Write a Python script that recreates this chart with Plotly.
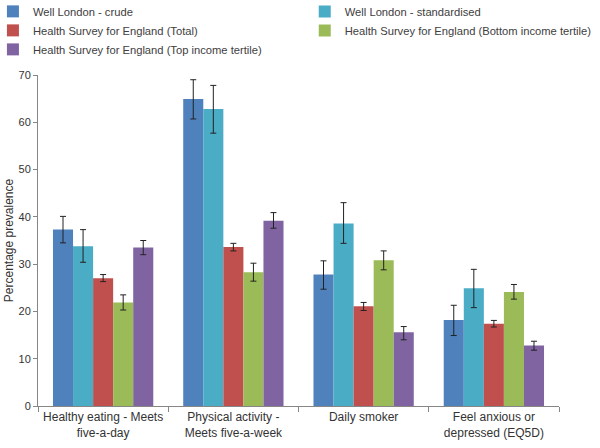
import plotly.graph_objects as go

# Categorias (rótulos do eixo x)
categories = ["Healthy eating - Meets<br>five-a-day",
              "Physical activity -<br>Meets five-a-week",
              "Daily smoker",
              "Feel anxious or<br>depressed (EQ5D)"]

series_names = ["Well London - crude",
                "Well London - standardised",
                "Health Survey for England (Total)",
                "Health Survey for England (Bottom income tertile)",
                "Health Survey for England (Top income tertile)"]

wl_crude = [37.3, 64.9, 27.8, 18.2]
wl_crude_hi = [40.1, 69.0, 30.7, 21.3]
wl_crude_lo = [34.5, 60.7, 24.7, 14.9]

wl_std = [33.8, 62.8, 38.6, 24.9]
wl_std_hi = [37.3, 67.8, 43.0, 28.9]
wl_std_lo = [30.4, 57.7, 34.4, 20.8]

hse_total = [27.0, 33.6, 21.1, 17.4]
hse_total_hi = [27.8, 34.4, 21.9, 18.1]
hse_total_lo = [26.3, 32.8, 20.2, 16.7]

hse_bottom = [21.9, 28.3, 30.8, 24.1]
hse_bottom_hi = [23.5, 30.2, 32.8, 25.7]
hse_bottom_lo = [20.3, 26.4, 28.8, 22.6]

hse_top = [33.5, 39.2, 15.6, 12.8]
hse_top_hi = [35.0, 40.9, 16.8, 13.7]
hse_top_lo = [32.0, 37.6, 14.0, 11.8]

colors = ["#4F81BD", "#4BACC6", "#C0504D", "#9BBB59", "#8064A2"]

values = [wl_crude, wl_std, hse_total, hse_bottom, hse_top]
highs = [wl_crude_hi, wl_std_hi, hse_total_hi, hse_bottom_hi, hse_top_hi]
lows = [wl_crude_lo, wl_std_lo, hse_total_lo, hse_bottom_lo, hse_top_lo]
# coluna da legenda em que cada série aparece
legend_cols = ["legend", "legend2", "legend", "legend2", "legend"]

fig = go.Figure()
for name, v, hi, lo, c, lg in zip(series_names, values, highs, lows, colors, legend_cols):
    fig.add_trace(go.Bar(
        x=categories, y=v, name=name, legend=lg,
        marker=dict(color=c, line=dict(width=0)),
        error_y=dict(type="data", symmetric=False,
                     array=[h - y for h, y in zip(hi, v)],
                     arrayminus=[y - l for y, l in zip(v, lo)],
                     color="#222222", thickness=1, width=3),
    ))

leg_common = dict(orientation="v", xanchor="left", yanchor="top",
                  font=dict(size=11.2, color="#404040"), traceorder="normal",
                  itemwidth=30, tracegroupgap=0, bgcolor="rgba(0,0,0,0)")

fig.update_layout(
    width=600, height=448,
    barmode="group", bargap=0.23, bargroupgap=0,
    plot_bgcolor="white", paper_bgcolor="white",
    font=dict(family="Liberation Sans", size=12, color="#333333"),
    margin=dict(l=38, r=41, t=75, b=42, autoexpand=False),
    legend=dict(x=-0.0865, y=1.236, **leg_common),
    legend2=dict(x=0.512, y=1.236, **leg_common),
    xaxis=dict(showline=True, linecolor="#868686", linewidth=1,
               ticks="outside", tickson="boundaries", ticklen=5, tickcolor="#868686",
               tickangle=0, tickfont=dict(size=12)),
    yaxis=dict(range=[0, 70], dtick=10, showgrid=False, zeroline=False,
               showline=True, linecolor="#868686", linewidth=1,
               ticks="outside", ticklen=4, tickcolor="#868686",
               tickfont=dict(size=11),
               title=dict(text="Percentage prevalence", font=dict(size=12), standoff=2)),
)

# tira a margem padrão da página para a figura ocupar a janela inteira
fig.write_html("out.html", config={"displayModeBar": False},
               post_script="document.body.style.margin='0';")
